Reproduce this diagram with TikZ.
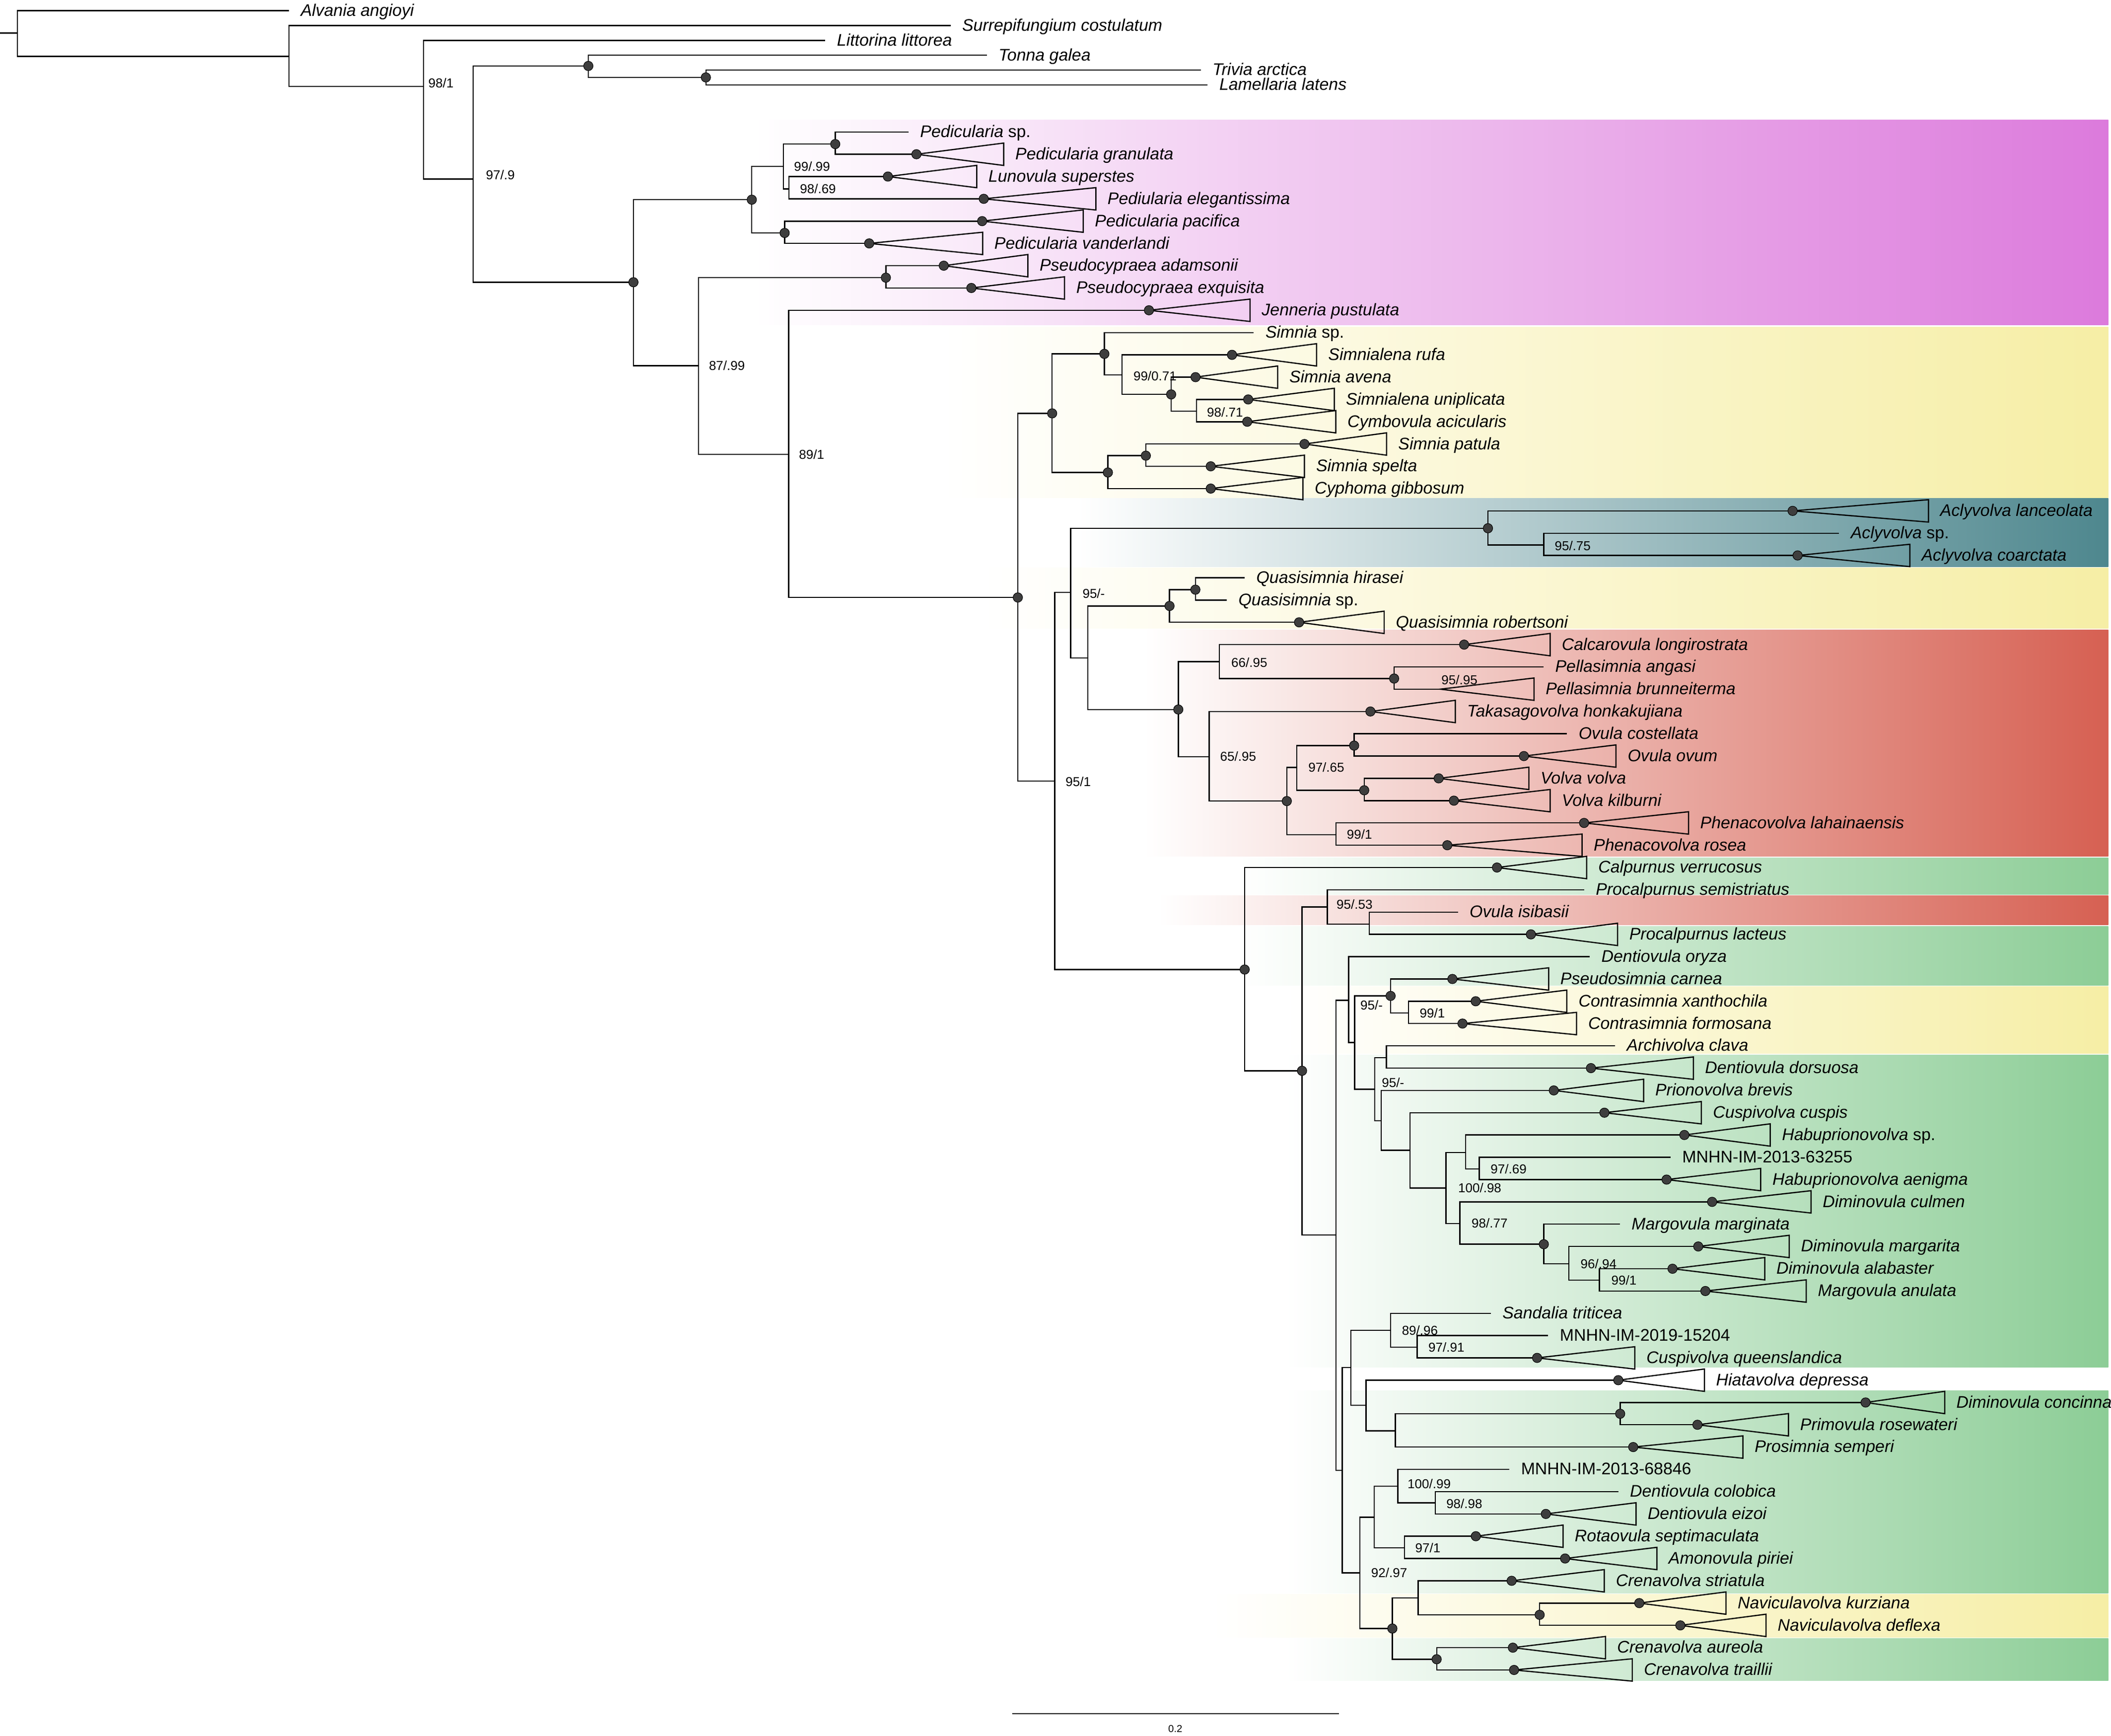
\documentclass[tikz,border=0pt]{standalone}
\usepackage{fontspec}
\newfontfamily\arialfont{Liberation Sans}

\definecolor{bandpink}{RGB}{220,122,220}
\definecolor{bandyellow}{RGB}{246,238,165}
\definecolor{bandteal}{RGB}{78,135,142}
\definecolor{bandred}{RGB}{214,96,82}
\definecolor{bandgreen}{RGB}{140,205,150}
\definecolor{dotgray}{RGB}{62,62,62}

\tikzset{
  branch/.style={line width=0.9pt},
  clade/.style={line width=0.9pt, line join=miter},
  nodedot/.style={circle, draw=black, fill=dotgray, line width=0.4pt, inner sep=0pt, minimum size=7pt},
  taxon/.style={anchor=base west, inner sep=0pt, xshift=8.5pt, yshift=-4pt, font=\arialfont\itshape\fontsize{12.5}{15}\selectfont},
  support/.style={anchor=base west, inner sep=0pt, yshift=-3.4pt, font=\arialfont\fontsize{9.6}{11}\selectfont},
}

% collapsed clades: row / apex x / right edge x / name
\def\cladelist{1/680.7/745.5/Pedicularia granulata, 2/659.5/725.5/Lunovula superstes,
  3/730.7/814/Pediularia elegantissima, 4/729.5/804.6/Pedicularia pacifica,
  5/645.6/729.9/Pedicularia vanderlandi, 6/701/763.5/Pseudocypraea adamsonii,
  7/721.5/790.7/Pseudocypraea exquisita, 8/853.4/928.5/Jenneria pustulata,
  10/915.1/977.9/Simnialena rufa, 11/888/949/Simnia avena,
  12/927.1/991.1/Simnialena uniplicata, 13/926.4/992.2/Cymbovula acicularis,
  14/968.9/1029.9/Simnia patula, 15/899.3/968.9/Simnia spelta,
  16/899.3/967.8/Cyphoma gibbosum, 17/1331.5/1432.4/Aclyvolva lanceolata,
  19/1335.2/1418.6/Aclyvolva coarctata, 22/964.9/1028.1/Quasisimnia robertsoni,
  23/1087.5/1151.4/Calcarovula longirostrata, 26/1017.9/1081/Takasagovolva honkakujiana,
  28/1131.9/1200.3/Ovula ovum, 29/1068.6/1135.6/Volva volva,
  30/1079.9/1151.4/Volva kilburni, 31/1176.6/1254.2/Phenacovolva lahainaensis,
  32/1075/1175.1/Phenacovolva rosea, 33/1111.9/1178.5/Calpurnus verrucosus,
  36/1137.1/1201.5/Procalpurnus lacteus, 38/1078.8/1150.3/Pseudosimnia carnea,
  39/1096.1/1163.8/Contrasimnia xanthochila, 40/1086.3/1171/Contrasimnia formosana,
  42/1181.7/1257.8/Dentiovula dorsuosa, 43/1154.1/1220.8/Prionovolva brevis,
  44/1191.7/1263.7/Cuspivolva cuspis, 45/1251.1/1314.9/Habuprionovolva {\upshape sp.},
  47/1237.9/1307.8/Habuprionovolva aenigma, 48/1271.7/1345.2/Diminovula culmen,
  50/1261.4/1329/Diminovula margarita, 51/1242.3/1310.8/Diminovula alabaster,
  52/1266.7/1341.6/Margovula anulata, 55/1141.7/1214.3/Cuspivolva queenslandica,
  56/1202/1266/Hiatavolva depressa, 57/1385.7/1444.5/Diminovula concinna,
  58/1260.8/1328.4/Primovula rosewateri, 59/1213.1/1294.6/Prosimnia semperi,
  62/1148.2/1215.2/Dentiovula eizoi, 63/1096.2/1161/Rotaovula septimaculata,
  64/1162.5/1230.7/Amonovula piriei, 65/1122.8/1191.6/Crenavolva striatula,
  66/1217.6/1282/Naviculavolva kurziana, 67/1248.1/1311.7/Naviculavolva deflexa,
  68/1123.7/1192.5/Crenavolva aureola, 69/1124.6/1212.4/Crenavolva traillii}

\begin{document}
\begin{tikzpicture}[x=1pt,y=-1pt]
  \useasboundingbox (0,0) rectangle (1568,1289.2);
  \def\th{8.3} % half height of a collapsed clade
  % coloured bands behind the clades
  \foreach \ya/\yb/\xl/\bc in {89.1/241.5/560/bandpink, 242.8/369.7/700/bandyellow,
      370.2/420.9/800/bandteal, 421.8/466.8/730/bandyellow, 467.6/636/850/bandred,
      636.9/664.3/920/bandgreen, 664.9/687/860/bandred, 687.9/731.9/920/bandgreen,
      732.7/782.5/955/bandyellow, 783.5/1015.5/955/bandgreen, 1032.7/1183.3/955/bandgreen,
      1183.9/1216/900/bandyellow, 1216.8/1248.2/955/bandgreen} {
    \shade[left color=white, right color=\bc] (\xl,\ya) rectangle (1566,\yb);
  }
  % outgroup tips
  \foreach \n/\ex/\ey/\txt in {a1/214.7/8/Alvania angioyi, a2/706/19/Surrepifungium costulatum,
      a3/613/30/Littorina littorea, a4/733/41/Tonna galea, a5/892/52/Trivia arctica,
      a6/897/63/Lamellaria latens} {
    \coordinate (\n) at (\ex,\ey);
    \node[taxon] (lab-\n) at (\n) {\txt};
  }
  % single tips
  \foreach \r/\ex/\txt in {0/674.8/Pedicularia {\upshape sp.}, 9/931.3/Simnia {\upshape sp.},
      18/1366/Aclyvolva {\upshape sp.}, 20/924.5/Quasisimnia hirasei,
      21/911.2/Quasisimnia {\upshape sp.}, 24/1146.5/Pellasimnia angasi,
      27/1163.9/Ovula costellata, 34/1176.6/Procalpurnus semistriatus,
      35/1082.9/Ovula isibasii, 37/1180.8/Dentiovula oryza, 41/1199.6/Archivolva clava,
      46/1240.8/{\upshape MNHN-IM-2013-63255}, 49/1203.2/Margovula marginata,
      53/1107.3/Sandalia triticea, 54/1149.9/{\upshape MNHN-IM-2019-15204},
      60/1121.1/{\upshape MNHN-IM-2013-68846}, 61/1202/Dentiovula colobica} {
    \pgfmathsetmacro\yy{98+16.553*\r}
    \coordinate (t\r) at (\ex,\yy);
    \node[taxon] (lab\r) at (t\r) {\txt};
  }
  % collapsed tips
  \foreach \r/\ax/\tx/\txt in \cladelist {
    \pgfmathsetmacro\yy{98+16.553*\r}
    \coordinate (t\r) at (\ax,\yy);
    \coordinate (e\r) at (\tx,\yy);
    \node[taxon] (lab\r) at (e\r) {\txt};
  }
  \coordinate (t25) at (1069.8,511.8);
  \coordinate (e25) at (1139.4,511.8);
  \node[taxon] (lab25) at (e25) {Pellasimnia brunneiterma};
  % internal nodes
  \foreach \n/\x/\y in {root/12.9/24.6, n1/214.7/41.8, n2/314.6/64.2, n3/351.5/133,
      n4/437/49, n5/524.3/57.5, n6/470.5/209.6, n7/558.4/148.3, n8/582/123.5,
      n9/620.4/107, n10/586/140.3, n12/582.8/173, n20/518.9/271.6, n21/658/206.2,
      n30/585.8/337.4, n31/756/443.7, n32/781.5/307, n33/820.3/262.8, n34/833.4/278.4,
      n35/869.9/292.9, n36/888.7/305.4, n40/822.9/350.9, n41/851.1/338.4,
      n50/783.5/580.1, n51/795.3/440, n52/1105.2/392.3, n53/1146.6/404.7,
      n55/808/488.6, n56/868.7/450, n57/887.9/437.9, n60/875.2/526.9,
      n61/905.7/491.4, n62/1035.5/503.9, n65/898.2/562, n66/955.8/594.9,
      n67/963.3/570, n68/1005.8/553.7, n69/1013.3/586.9, n72/992.3/619.8,
      n70/924.5/720, n80/967.1/795.2, n81/985.9/673.5, n82/1017.1/686.2,
      n90/992.4/917.2, na/1001.8/742.8, nb/1006.2/774.2, nb1/1032.9/739.6,
      nb2/1046.1/752.2, nc/1021.2/808.9, nd/1029.7/785.4, ne/1025.8/832.2,
      nf/1047.3/854.3, ng/1074.1/882.2, nh/1088.5/855.9, ni/1098.8/868.1,
      nj/1084.4/908.6, nk/1146.7/924, nl/1165.2/938.6, nm/1187.9/950.7,
      np/997/1092, nq/1003.5/1015.6, nr/1032.9/988, ns/1052.6/1000.5,
      nt/1014.7/1043.7, nu/1036.4/1062.6, nv/1203.4/1049.9, nw/1010/1168,
      nx/1020.7/1126.8, nx1/1038.2/1103.7, nx2/1066.1/1116, ny/1043.3/1149.5,
      nz/1034.2/1209.4, nz1/1053.4/1186.7, nz2/1143.6/1199.2, nz3/1067.1/1232.2}
    \coordinate (\n) at (\x,\y);
  \coordinate (stub) at (0,24.6);
  % branches
  \draw[branch] (stub) -- (root);
  \foreach \p/\c in {root/a1, root/n1, n1/a2, n1/n2, n2/a3, n2/n3, n3/n4, n3/n6,
      n4/a4, n4/n5, n5/a5, n5/a6, n6/n7, n6/n20, n7/n8, n7/n12, n8/n9, n8/n10,
      n9/t0, n9/t1, n10/t2, n10/t3, n12/t4, n12/t5, n20/n21, n20/n30, n21/t6, n21/t7,
      n30/t8, n30/n31, n31/n32, n31/n50, n32/n33, n32/n40, n33/t9, n33/n34,
      n34/t10, n34/n35, n35/t11, n35/n36, n36/t12, n36/t13, n40/n41, n40/t16,
      n41/t14, n41/t15, n50/n51, n50/n70, n51/n52, n51/n55, n52/t17, n52/n53,
      n53/t18, n53/t19, n55/n56, n55/n60, n56/n57, n56/t22, n57/t20, n57/t21,
      n60/n61, n60/n65, n61/t23, n61/n62, n62/t24, n62/t25, n65/t26, n65/n66,
      n66/n67, n66/n72, n67/n68, n67/n69, n68/t27, n68/t28, n69/t29, n69/t30,
      n72/t31, n72/t32, n70/t33, n70/n80, n80/n81, n80/n90, n81/t34, n81/n82,
      n82/t35, n82/t36, n90/na, n90/np, na/t37, na/nb, nb/nb1, nb/nc, nb1/t38,
      nb1/nb2, nb2/t39, nb2/t40, nc/nd, nc/ne, nd/t41, nd/t42, ne/t43, ne/nf,
      nf/t44, nf/ng, ng/nh, ng/nj, nh/t45, nh/ni, ni/t46, ni/t47, nj/t48, nj/nk,
      nk/t49, nk/nl, nl/t50, nl/nm, nm/t51, nm/t52, np/nq, np/nw, nq/nr, nq/nt,
      nr/t53, nr/ns, ns/t54, ns/t55, nt/t56, nt/nu, nu/nv, nu/t59, nv/t57, nv/t58,
      nw/nx, nw/nz, nx/nx1, nx/ny, nx1/t60, nx1/nx2, nx2/t61, nx2/t62, ny/t63,
      ny/t64, nz/nz1, nz/nz3, nz1/t65, nz1/nz2, nz2/t66, nz2/t67, nz3/t68, nz3/t69}
    \draw[branch] (\p) |- (\c);
  % triangles for collapsed clades
  \foreach \r/\ax/\tx/\txt in \cladelist {
    \draw[clade] (t\r) -- ([yshift=\th pt]e\r) -- ([yshift=-\th pt]e\r) -- cycle;
    \node[nodedot] (d\r) at (t\r) {};
  }
  \draw[clade] (t25) -- ([yshift=\th pt]e25) -- ([yshift=-\th pt]e25) -- cycle;
  % fully supported nodes
  \foreach \n in {n4, n5, n6, n7, n9, n12, n21, n31, n32, n33, n35, n40, n41, n52,
      n56, n57, n60, n62, n66, n68, n69, n70, n80, nb1, nk, nv, nz, nz2, nz3}
    \node[nodedot] (dot-\n) at (\n) {};
  % support values
  \node[support] (s1) at (318,61.8) {98/1};
  \node[support] (s2) at (360.8,130) {97/.9};
  \node[support] (s3) at (589.6,123.5) {99/.99};
  \node[support] (s4) at (594,140.2) {98/.69};
  \node[support] (s5) at (526.4,271.6) {87/.99};
  \node[support] (s6) at (593.3,337.4) {89/1};
  \node[support] (s7) at (841.7,279.3) {99/0.71};
  \node[support] (s8) at (896.3,306) {98/.71};
  \node[support] (s9) at (1154.6,405.2) {95/.75};
  \node[support] (s10) at (803.9,440.6) {95/-};
  \node[support] (s11) at (914.4,491.9) {66/.95};
  \node[support] (s12) at (1070.5,504.8) {95/.95};
  \node[support] (s13) at (906.1,561.9) {65/.95};
  \node[support] (s14) at (971.6,570) {97/.65};
  \node[support] (s15) at (1000.2,619.7) {99/1};
  \node[support] (s16) at (791.3,580.4) {95/1};
  \node[support] (s17) at (992.6,671.8) {95/.53};
  \node[support] (s18) at (1010.3,746.3) {95/-};
  \node[support] (s19) at (1054.3,752.4) {99/1};
  \node[support] (s20) at (1026.2,803.9) {95/-};
  \node[support] (s21) at (1082.9,882.2) {100/.98};
  \node[support] (s22) at (1107,868.1) {97/.69};
  \node[support] (s23) at (1092.9,908.4) {98/.77};
  \node[support] (s24) at (1173.8,938.5) {96/.94};
  \node[support] (s25) at (1196.7,950.9) {99/1};
  \node[support] (s26) at (1041.1,988.2) {89/.96};
  \node[support] (s27) at (1060.8,1000.5) {97/.91};
  \node[support] (s28) at (1045.3,1102) {100/.99};
  \node[support] (s29) at (1074.1,1116.6) {98/.98};
  \node[support] (s30) at (1051,1149.5) {97/1};
  \node[support] (s31) at (1018.3,1167.9) {92/.97};
  % scale bar
  \coordinate (sb1) at (752,1272.5);
  \coordinate (sb2) at (994.4,1272.5);
  \draw[branch] (sb1) -- (sb2);
  \node[font=\arialfont\fontsize{7.5}{9}\selectfont, inner sep=0pt] (sblab) at (873,1283.8) {0.2};
\end{tikzpicture}
\end{document}
